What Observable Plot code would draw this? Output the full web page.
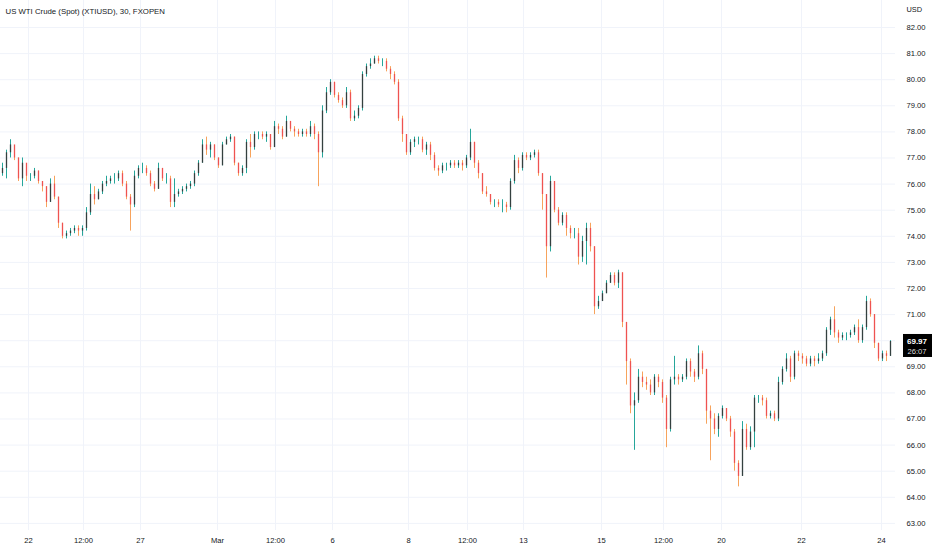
<!DOCTYPE html>
<html>
<head>
<meta charset="utf-8">
<script src="https://cdn.jsdelivr.net/npm/d3@7"></script>
<script src="https://cdn.jsdelivr.net/npm/@observablehq/plot@0.6"></script>
<style>
  body { margin: 0; background: #fff; }
  #chart svg { display: block; }
</style>
</head>
<body>
<div id="chart"></div>
<script>
// 30 min candles (one value every ~4 px)
const firstOpen = 76.4;
const closes = [
  76.6, 77.2, 77.5, 77.0, 76.2, 76.8, 76.3, 76.3, 76.5, 76.1, 75.9, 75.3, 76.0, 75.5, 74.5, 74.0, 74.1, 74.2, 74.3, 74.2,
  74.3, 74.9, 75.6, 75.4, 75.7, 76.0, 76.1, 76.2, 76.2, 76.4, 76.0, 75.5, 75.2, 76.3, 76.6, 76.6, 76.4, 76.0, 75.8, 76.6,
  76.2, 76.2, 75.3, 75.6, 75.7, 75.8, 75.9, 76.0, 76.4, 76.8, 77.5, 77.3, 77.5, 77.0, 76.7, 77.5, 77.7, 77.8, 76.8, 76.4,
  76.6, 77.6, 77.4, 77.9, 77.9, 77.8, 77.9, 77.4, 78.2, 78.1, 77.8, 78.4, 78.1, 78.0, 77.9, 78.0, 77.9, 78.2, 77.9, 77.2,
  78.8, 79.5, 79.9, 79.4, 79.2, 79.0, 79.5, 78.5, 78.6, 78.9, 80.2, 80.5, 80.6, 80.8, 80.7, 80.7, 80.4, 80.2, 79.9, 78.5,
  77.9, 77.2, 77.6, 77.7, 77.7, 77.3, 77.5, 77.1, 76.6, 76.5, 76.7, 76.7, 76.8, 76.7, 76.8, 76.7, 77.0, 77.6, 76.8, 76.4,
  75.7, 75.6, 75.3, 75.3, 75.2, 75.2, 75.1, 76.1, 76.9, 76.6, 77.1, 77.0, 77.1, 77.2, 76.4, 75.6, 73.6, 76.1, 75.0, 74.5,
  74.8, 74.3, 74.1, 74.1, 73.2, 73.8, 74.3, 73.6, 71.3, 71.5, 71.8, 72.2, 72.5, 72.2, 72.6, 70.7, 69.2, 67.5, 67.7, 68.6,
  68.4, 68.3, 68.0, 68.6, 68.4, 67.8, 66.6, 68.5, 68.6, 68.5, 68.6, 69.2, 68.8, 68.6, 69.5, 68.9, 67.3, 67.0, 66.6, 67.1,
  67.4, 67.0, 66.5, 65.3, 64.8, 66.6, 65.9, 66.5, 67.8, 67.8, 67.7, 67.1, 67.2, 67.0, 68.4, 68.9, 69.3, 68.6, 69.5, 69.4,
  69.3, 69.1, 69.3, 69.2, 69.3, 69.5, 70.4, 70.8, 70.3, 70.1, 70.2, 70.2, 70.3, 70.5, 70.0, 70.5, 71.5, 71.0, 69.9, 69.3,
  69.5, 69.4, 69.97
];
const highs = [
  76.8, 77.3, 77.7, 77.4, 77.0, 77.0, 76.6, 76.4, 76.6, 76.5, 76.1, 75.9, 76.2, 76.3, 75.5, 74.5, 74.2, 74.3, 74.4, 74.4,
  74.4, 75.1, 76.0, 75.9, 75.8, 76.1, 76.3, 76.3, 76.4, 76.5, 76.5, 76.1, 75.6, 76.5, 76.7, 76.8, 76.7, 76.5, 76.1, 76.8,
  76.6, 76.4, 76.3, 76.2, 75.8, 75.9, 76.0, 76.1, 76.5, 76.9, 77.7, 77.8, 77.6, 77.5, 77.0, 77.6, 77.8, 77.9, 77.8, 76.8,
  76.7, 77.7, 77.9, 78.0, 78.0, 78.0, 78.0, 77.9, 78.4, 78.3, 78.2, 78.6, 78.4, 78.2, 78.1, 78.1, 78.1, 78.4, 78.3, 78.0,
  79.0, 79.7, 80.0, 79.9, 79.5, 79.3, 79.7, 79.6, 78.8, 79.0, 80.3, 80.6, 80.8, 80.9, 80.9, 80.8, 80.8, 80.5, 80.3, 80.0,
  78.6, 77.9, 77.7, 77.8, 77.8, 77.8, 77.6, 77.6, 77.2, 76.7, 76.8, 76.8, 76.9, 76.9, 76.9, 76.9, 77.1, 78.1, 77.6, 76.9,
  76.4, 75.9, 75.6, 75.4, 75.4, 75.4, 75.3, 76.2, 77.1, 77.0, 77.2, 77.2, 77.2, 77.3, 77.3, 76.4, 75.6, 76.3, 76.1, 75.1,
  74.9, 74.9, 74.4, 74.3, 74.3, 74.0, 74.5, 74.5, 73.6, 71.7, 71.9, 72.3, 72.6, 72.6, 72.7, 72.6, 70.7, 69.3, 68.0, 68.9,
  68.8, 68.6, 68.5, 68.7, 68.7, 68.5, 67.9, 68.6, 69.4, 68.7, 68.7, 69.3, 69.3, 68.9, 69.8, 69.6, 68.9, 67.5, 67.2, 67.2,
  67.5, 67.4, 67.1, 66.6, 65.4, 66.9, 66.8, 66.7, 67.9, 67.9, 67.9, 67.8, 67.3, 67.3, 68.6, 69.0, 69.5, 69.4, 69.6, 69.6,
  69.5, 69.4, 69.4, 69.4, 69.5, 69.6, 70.5, 70.9, 71.3, 70.4, 70.3, 70.3, 70.4, 70.6, 70.8, 70.6, 71.7, 71.6, 71.0, 69.9,
  69.6, 69.6, 70.0
];
const lows = [
  76.3, 76.2, 77.0, 76.9, 76.1, 75.9, 76.1, 76.1, 76.2, 76.0, 75.7, 75.1, 75.3, 75.4, 74.3, 73.9, 73.9, 74.0, 74.1, 74.0,
  74.0, 74.2, 74.8, 75.2, 75.4, 75.6, 75.9, 76.0, 76.0, 76.1, 75.9, 75.4, 74.2, 75.1, 76.2, 76.4, 76.3, 75.9, 75.7, 75.8,
  76.1, 76.0, 75.1, 75.1, 75.5, 75.6, 75.7, 75.8, 75.9, 76.3, 76.8, 77.1, 77.0, 76.9, 76.6, 76.7, 77.5, 77.6, 76.7, 76.3,
  76.3, 76.4, 77.0, 77.3, 77.7, 77.7, 77.6, 77.3, 77.4, 77.9, 77.7, 77.8, 78.0, 77.8, 77.8, 77.8, 77.8, 77.8, 77.7, 75.9,
  77.0, 78.7, 79.4, 79.3, 79.1, 78.9, 78.9, 78.4, 78.4, 78.5, 78.8, 80.1, 80.4, 80.6, 80.6, 80.5, 80.3, 80.0, 79.8, 78.4,
  77.6, 77.1, 77.1, 77.4, 77.5, 77.2, 77.1, 76.9, 76.5, 76.3, 76.4, 76.5, 76.6, 76.6, 76.6, 76.5, 76.6, 76.9, 76.6, 76.2,
  75.6, 75.5, 75.2, 75.1, 75.1, 74.9, 74.9, 75.0, 76.0, 76.4, 76.5, 76.9, 76.9, 77.0, 76.3, 75.0, 72.4, 73.4, 74.9, 74.4,
  74.4, 74.0, 73.9, 73.9, 72.9, 73.0, 72.9, 73.4, 71.0, 71.2, 71.5, 71.8, 72.2, 72.1, 72.0, 70.5, 68.3, 67.2, 65.8, 67.6,
  68.2, 68.1, 67.9, 67.9, 68.2, 67.6, 65.9, 66.5, 68.3, 68.3, 68.4, 68.5, 68.6, 68.4, 68.5, 68.7, 66.8, 65.4, 66.4, 66.3,
  67.0, 66.9, 66.3, 65.0, 64.4, 64.8, 65.8, 65.8, 65.9, 67.6, 67.5, 67.0, 67.0, 66.9, 66.9, 68.3, 68.8, 68.4, 68.5, 69.2,
  69.1, 69.0, 69.0, 69.0, 69.1, 69.2, 69.4, 70.2, 70.1, 69.9, 70.0, 70.0, 70.1, 70.2, 69.9, 69.9, 70.4, 70.9, 69.7, 69.2,
  69.2, 69.2, 69.4
];

// date axis (bar index positions) and price axis
const tickIdx = [6.5, 20.25, 34.5, 53.75, 68.25, 82.5, 101.5, 116.25, 130.25, 149.75, 165.25, 179.75, 199.75, 219.75];
const tickText = ["22", "12:00", "27", "Mar", "12:00", "6", "8", "12:00", "13", "15", "12:00", "20", "22", "24"];
const priceTicks = [63, 64, 65, 66, 67, 68, 69, 70, 71, 72, 73, 74, 75, 76, 77, 78, 79, 80, 81, 82];

const title = "US WTI Crude (Spot) (XTIUSD), 30, FXOPEN";
const lastPrice = "69.97";
const countdown = "26:07";

const upWick = "#26a69a", upBody = "#34403f";
const downWick = "#f7a35c", downBody = "#ef5350";

const bars = closes.map((c, i) => ({
  i,
  o: i ? closes[i - 1] : firstOpen,
  c,
  h: highs[i],
  l: lows[i]
}));
const isUp = d => d.c >= d.o;
const labelOf = new Map(tickIdx.map((t, k) => [t, tickText[k]]));

const chart = Plot.plot({
  width: 932,
  height: 550,
  marginLeft: 0,
  marginRight: 37,
  marginTop: 0,
  marginBottom: 20,
  x: {domain: [-0.5, 223.25], axis: null, label: null},
  y: {domain: [62.728, 83.034], axis: null, label: null},
  style: {
    background: "#fff",
    fontFamily: "'Liberation Sans', Arial, sans-serif",
    fontSize: "7.6px",
    color: "#131722"
  },
  marks: [
    Plot.gridY(priceTicks, {stroke: "#f0f3fa", strokeOpacity: 1}),
    Plot.gridX(tickIdx, {stroke: "#f0f3fa", strokeOpacity: 1}),
    Plot.ruleX(bars, {
      x: "i", y1: "l", y2: "h",
      stroke: d => isUp(d) ? upWick : downWick,
      strokeWidth: 1
    }),
    Plot.ruleX(bars, {
      x: "i", y1: "o", y2: "c",
      stroke: d => isUp(d) ? upBody : downBody,
      strokeWidth: 1.3
    }),
    Plot.axisY(priceTicks, {
      anchor: "right", tickSize: 0, tickPadding: 11, label: null,
      tickFormat: d => d.toFixed(2), fill: "#131722"
    }),
    Plot.axisX(tickIdx, {
      anchor: "bottom", tickSize: 0, tickPadding: 7, label: null,
      tickFormat: d => labelOf.get(d), fill: "#131722"
    }),
    Plot.text([title], {
      frameAnchor: "top-left", dx: 5, dy: 8, textAnchor: "start",
      fill: "#131722", fontSize: 7.8
    }),
    Plot.text(["USD"], {
      frameAnchor: "top-right", dx: 11, dy: 6, textAnchor: "start",
      fill: "#131722", fontSize: 7.4
    })
  ]
});

// last price badge on the price axis
const yLast = chart.scale("y").apply(closes[closes.length - 1]);
const badge = d3.select(chart).append("g");
badge.append("rect")
  .attr("x", 903).attr("y", yLast - 7)
  .attr("width", 29).attr("height", 23)
  .attr("fill", "#000");
badge.append("text")
  .attr("x", 917).attr("y", yLast + 3.5)
  .attr("text-anchor", "middle")
  .attr("fill", "#fff").attr("font-weight", "bold")
  .attr("font-size", 8)
  .text(lastPrice);
badge.append("text")
  .attr("x", 917).attr("y", yLast + 13)
  .attr("text-anchor", "middle")
  .attr("fill", "#ddd")
  .attr("font-size", 7.6)
  .text(countdown);

d3.select("#chart").append(() => chart);
</script>
</body>
</html>
